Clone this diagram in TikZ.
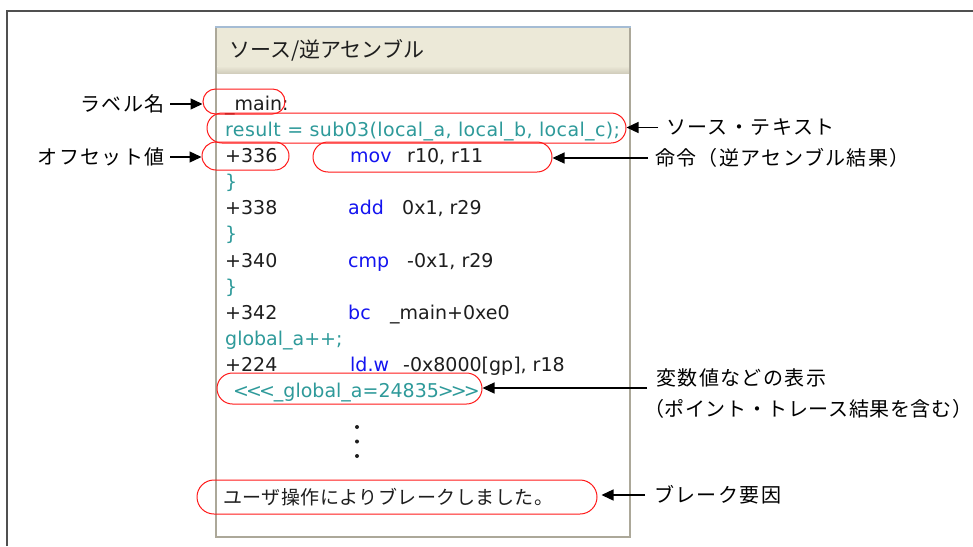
\documentclass[tikz,border=0pt]{standalone}
\usepackage{fontspec}
\setmainfont{DejaVu Sans}
\newfontfamily\jpfont{Noto Sans CJK JP}
\newfontfamily\jplabelfont[LetterSpace=7]{Noto Sans CJK JP}
\newfontfamily\codefont{DejaVu Sans}
\usetikzlibrary{arrows.meta,shapes.misc}
\definecolor{framegray}{HTML}{505050}
\definecolor{panelborder}{HTML}{ACA899}
\definecolor{panelhead}{HTML}{ECE9D8}
\definecolor{headshade}{HTML}{D2CEBD}
\definecolor{headtop}{HTML}{A5BCD4}
\definecolor{srcteal}{HTML}{2E9A9A}
\definecolor{opblue}{HTML}{1414F0}
\definecolor{codeblack}{HTML}{1E1E1E}
\definecolor{markred}{HTML}{FF1A1A}
\tikzset{
  codetext/.style={anchor=base west, inner sep=0pt, text=codeblack,
    font=\codefont\fontsize{19}{23}\selectfont},
  srctext/.style={codetext, text=srcteal},
  optext/.style={codetext, text=opblue},
  markbox/.style={draw=markred, line width=1pt, rounded rectangle, inner sep=0pt},
  calllabel/.style={inner sep=0pt, align=left, font=\jplabelfont\fontsize{20}{31}\selectfont},
  callarrow/.style={-{Triangle[length=12pt,width=11pt]}, line width=1.3pt}
}

\begin{document}
\begin{tikzpicture}[x=1pt,y=-1pt]
  \useasboundingbox (0,0) rectangle (973,546);
  % outer frame and window panel
  \draw[framegray, line width=2pt] (7,546) -- (7,11) -- (973,11);
  \draw[panelborder, line width=2.5pt, fill=white] (216,27) rectangle (630,537);
  \fill[panelhead] (217.25,28) rectangle (628.75,66);
  \shade[top color=panelhead, bottom color=headshade] (217.25,66) rectangle (628.75,73);
  \draw[headtop, line width=2pt] (215,27) -- (631,27);
  \node[anchor=west, inner sep=0pt, font=\jpfont\fontsize{21}{24}\selectfont, text=codeblack]
    (title) at (229,50) {ソース/逆アセンブル};

  % source / disassembly lines
  \node[codetext] (lmain) at (225,110.5) {\_main:};
  \node[srctext] (lsrc) at (225,136.5)
    {\addfontfeature{LetterSpace=2}result = sub03(local\_a, local\_b, local\_c);};
  \node[codetext] (off1) at (225,162.6) {+336};
  \node[optext] (op1) at (350,162.6) {mov};
  \node[codetext] (arg1) at (407,162.6) {r10, r11};
  \node[srctext] (br1) at (225,188.7) {\}};
  \node[codetext] (off2) at (225,214.8) {+338};
  \node[optext] (op2) at (348,214.8) {add};
  \node[codetext] (arg2) at (402,214.8) {0x1, r29};
  \node[srctext] (br2) at (225,240.9) {\}};
  \node[codetext] (off3) at (225,267) {+340};
  \node[optext] (op3) at (348,267) {cmp};
  \node[codetext] (arg3) at (407,267) {-0x1, r29};
  \node[srctext] (br3) at (225,293.1) {\}};
  \node[codetext] (off4) at (225,319.2) {+342};
  \node[optext] (op4) at (348,319.2) {bc};
  \node[codetext] (arg4) at (390,319.2) {\_main+0xe0};
  \node[srctext] (lglob) at (225,345.3) {global\_a++;};
  \node[codetext] (off5) at (225,371.4) {+224};
  \node[optext] (op5) at (350,371.4) {ld.w};
  \node[codetext] (arg5) at (403,371.4) {-0x8000[gp], r18};
  \node[srctext] (lvar) at (233,397.5)
    {<\kern-3pt<\kern-3pt<\kern-1pt\_global\_a=24835\kern-1pt>\kern-3pt>\kern-3pt>};
  \foreach \y in {427,441.5,456}
    \fill[codeblack] (357,\y) circle (2pt);
  \node[anchor=west, inner sep=0pt, font=\jpfont\fontsize{19}{22}\selectfont, text=codeblack]
    (lbrk) at (223,497) {\addfontfeature{LetterSpace=2.5}ユーザ操作によりブレークしました。};

  % red markers
  \node[markbox, minimum width=82pt, minimum height=25pt] (mainbox) at (244,101.5) {};
  \node[markbox, minimum width=419pt, minimum height=30pt] (srcbox) at (416.5,128) {};
  \node[markbox, minimum width=87pt, minimum height=28pt] (offbox) at (245.5,156) {};
  \node[markbox, minimum width=239pt, minimum height=30pt] (cmdbox) at (432.5,157) {};
  \node[markbox, minimum width=265pt, minimum height=31pt] (varbox) at (349.5,388.5) {};
  \node[markbox, minimum width=400pt, minimum height=34pt] (brkbox) at (397,497) {};

  % callouts
  \node[calllabel, anchor=east] (lblname) at (165,104) {ラベル名};
  \node[calllabel, anchor=east] (offlabel) at (165,157) {オフセット値};
  \node[calllabel, anchor=west] (srclabel) at (666,127.5) {ソース・テキスト};
  \node[calllabel, anchor=west] (cmdlabel) at (655,158) {命令（逆アセンブル結果）};
  \node[calllabel, anchor=west] (varlabel) at (644,393.5)
    {\hspace*{12pt}変数値などの表示\\{\addfontfeature{LetterSpace=3}（ポイント・トレース結果を含む）}};
  \node[calllabel, anchor=west] (brklabel) at (654,495) {ブレーク要因};

  \draw[callarrow, shorten <=5pt] (lblname.east) -- (lblname.east -| mainbox.west);
  \draw[callarrow, shorten <=5pt] (offlabel.east) -- (offlabel.east -| offbox.west);
  \draw[callarrow, shorten <=8pt] (srclabel.west) -- (srclabel.west -| srcbox.east);
  \draw[callarrow, shorten <=7pt] (cmdlabel.west) -- (cmdlabel.west -| cmdbox.east);
  \draw[callarrow] ([xshift=3pt,yshift=5.5pt]varlabel.west) -- ([yshift=5.5pt]varlabel.west -| varbox.east);
  \draw[callarrow, shorten <=9pt, shorten >=4pt] (brklabel.west) -- (brklabel.west -| brkbox.east);
\end{tikzpicture}
\end{document}
